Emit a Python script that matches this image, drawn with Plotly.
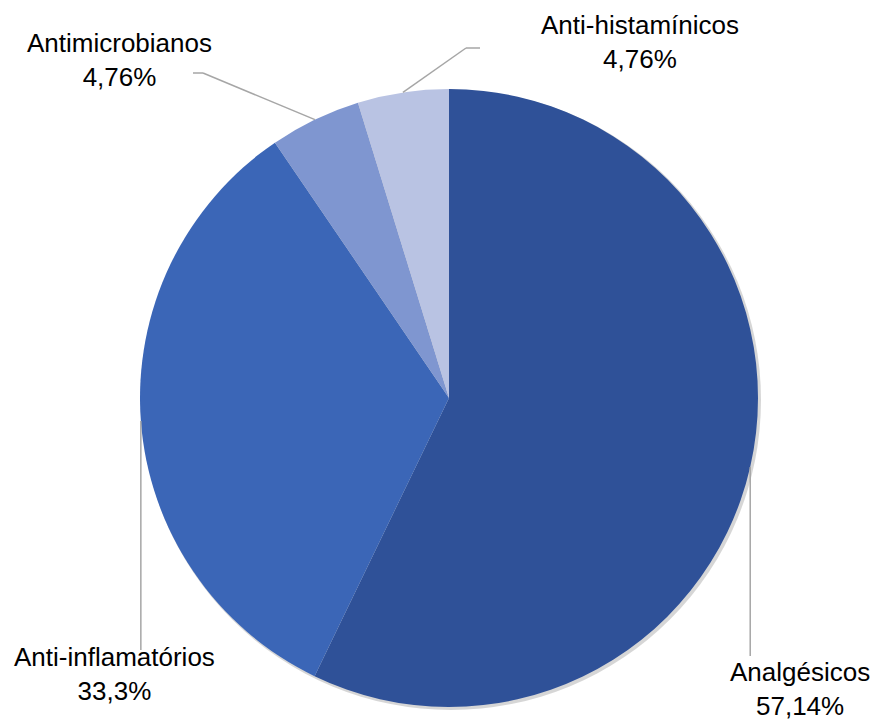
import math
import plotly.graph_objects as go

# ---- data ----
categories = ["Analgésicos", "Anti-inflamatórios", "Antimicrobianos", "Anti-histamínicos"]
values = [57.14, 33.3, 4.76, 4.76]
value_labels = ["57,14%", "33,3%", "4,76%", "4,76%"]
colors = ["#2f5198", "#3b66b7", "#7f96d0", "#b9c3e3"]

W, H = 875, 724
CX, CY, R = 449, 398, 309  # pie centre / radius in pixels (layout)

def px(x):
    return x / W

def py(y):
    return 1 - y / H

fig = go.Figure()

# soft shadow
fig.add_trace(go.Pie(
    values=[1], labels=["shadow"], sort=False, textinfo="none", hoverinfo="skip",
    marker=dict(colors=["rgba(0,0,0,0.16)"], line=dict(width=0)),
    domain=dict(x=[px(CX - R + 1), px(CX + R + 3)], y=[py(CY + R + 3), py(CY - R + 1)]),
    showlegend=False,
))

fig.add_trace(go.Pie(
    labels=categories, values=values, sort=False, direction="clockwise", rotation=0,
    textinfo="none", hoverinfo="label+percent",
    marker=dict(colors=colors, line=dict(width=0)),
    domain=dict(x=[px(CX - R), px(CX + R)], y=[py(CY + R), py(CY - R)]),
    showlegend=False,
))

# label placement (layout): label centre and leader-line path end points
label_pos = {
    "Analgésicos": (800, 689),
    "Anti-inflamatórios": (114, 674),
    "Antimicrobianos": (119, 60),
    "Anti-histamínicos": (640, 42),
}
leader_path = {
    "Analgésicos": lambda rx, ry: [(rx, 656)],
    "Anti-inflamatórios": lambda rx, ry: [(rx, 650)],
    "Antimicrobianos": lambda rx, ry: [(203, 73), (193, 73)],
    "Anti-histamínicos": lambda rx, ry: [(466, 48), (480, 48)],
}

total = sum(values)
cum = 0.0
shapes = []
annotations = []
for cat, v, lab in zip(categories, values, value_labels):
    mid = (cum + v / 2) / total * 2 * math.pi
    cum += v
    rx = CX + R * math.sin(mid)
    ry = CY - R * math.cos(mid)
    pts = [(rx, ry)] + leader_path[cat](rx, ry)
    for (x0, y0), (x1, y1) in zip(pts[:-1], pts[1:]):
        shapes.append(dict(type="line", xref="paper", yref="paper",
                           x0=px(x0), y0=py(y0), x1=px(x1), y1=py(y1),
                           line=dict(color="#a6a6a6", width=1.5)))
    lx, ly = label_pos[cat]
    annotations.append(dict(
        text=f"{cat}<br>{lab}", xref="paper", yref="paper", x=px(lx), y=py(ly),
        xanchor="center", yanchor="middle", showarrow=False, align="center",
        font=dict(family="Liberation Sans, Arial, sans-serif", size=26, color="#000000"),
    ))

fig.update_layout(
    width=W, height=H,
    margin=dict(l=0, r=0, t=0, b=0),
    paper_bgcolor="white", plot_bgcolor="white",
    shapes=shapes, annotations=annotations,
)

fig.write_html("out.html")
